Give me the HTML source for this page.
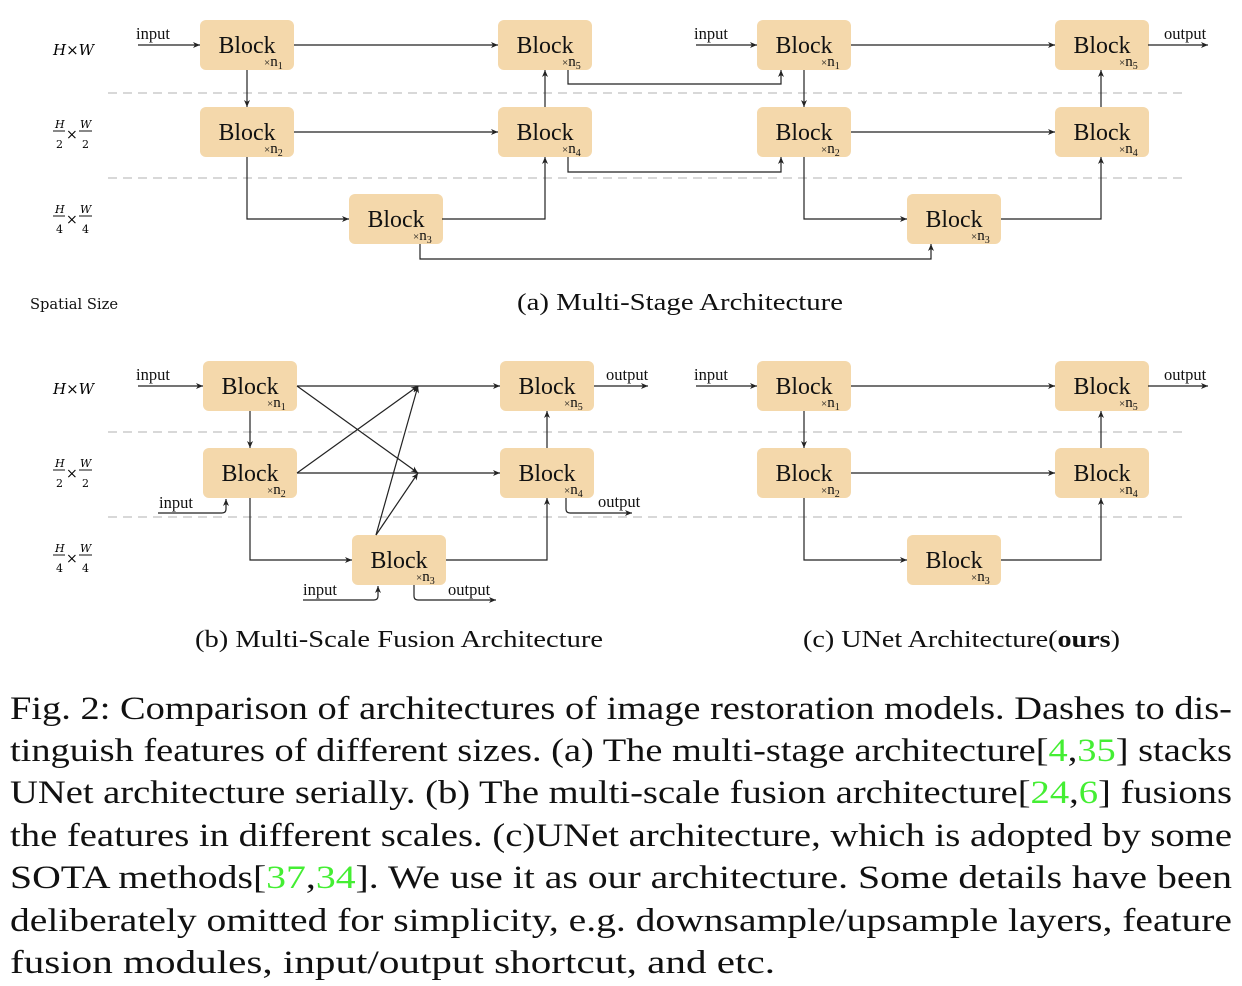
<!DOCTYPE html>
<html><head><meta charset="utf-8"><style>
html,body{margin:0;padding:0;background:#fff;width:1242px;height:986px;overflow:hidden}
svg{display:block;font-family:"Liberation Serif",serif}
.ln{stroke:#222;stroke-width:1.2;fill:none}
.ar{stroke:#222;stroke-width:1.2;fill:none;marker-end:url(#ah)}
.dash{stroke:#ccc;stroke-width:1.5;stroke-dasharray:9 6}
.lbl{font-size:16.5px;fill:#111}
.cap{font-size:24px;fill:#111}
.fig{font-size:33px;fill:#111}
.g{fill:#44ee33}
</style></head><body>
<svg id="s" width="1242" height="986" viewBox="0 0 1242 986">
<defs><marker id="ah" markerWidth="8" markerHeight="8" refX="7" refY="4" orient="auto" markerUnits="userSpaceOnUse"><path d="M0,1 L7,4 L0,7 L2,4z" fill="#222"/></marker></defs>

<g>
<line class="dash" x1="108" y1="93" x2="1186" y2="93"/>
<line class="dash" x1="108" y1="178" x2="1186" y2="178"/>
<line class="dash" x1="108" y1="432" x2="1186" y2="432"/>
<line class="dash" x1="108" y1="517" x2="1186" y2="517"/>
</g>

<g font-family="'DejaVu Serif',serif" font-style="italic" font-size="15">
<text x="53" y="55">H×W</text>
<text x="53" y="394">H×W</text>
<g font-size="11"><text x="55" y="128">H</text><line x1="53" y1="131" x2="65" y2="131" stroke="#111"/><text x="56" y="148" font-style="normal">2</text><text x="66" y="139" font-style="normal" font-size="14">×</text><text x="80" y="128">W</text><line x1="79" y1="131" x2="92" y2="131" stroke="#111"/><text x="82" y="148" font-style="normal">2</text></g>
<g font-size="11"><text x="55" y="213">H</text><line x1="53" y1="216" x2="65" y2="216" stroke="#111"/><text x="56" y="233" font-style="normal">4</text><text x="66" y="224" font-style="normal" font-size="14">×</text><text x="80" y="213">W</text><line x1="79" y1="216" x2="92" y2="216" stroke="#111"/><text x="82" y="233" font-style="normal">4</text></g>
<g font-size="11"><text x="55" y="467">H</text><line x1="53" y1="470" x2="65" y2="470" stroke="#111"/><text x="56" y="487" font-style="normal">2</text><text x="66" y="478" font-style="normal" font-size="14">×</text><text x="80" y="467">W</text><line x1="79" y1="470" x2="92" y2="470" stroke="#111"/><text x="82" y="487" font-style="normal">2</text></g>
<g font-size="11"><text x="55" y="552">H</text><line x1="53" y1="555" x2="65" y2="555" stroke="#111"/><text x="56" y="572" font-style="normal">4</text><text x="66" y="563" font-style="normal" font-size="14">×</text><text x="80" y="552">W</text><line x1="79" y1="555" x2="92" y2="555" stroke="#111"/><text x="82" y="572" font-style="normal">4</text></g>
</g>

<g id="blocks"></g>

<g>
<path class="ar" d="M138,45 H200"/><text class="lbl" x="136" y="39">input</text>
<path class="ar" d="M294,45 H498"/>
<path class="ar" d="M247,70 V107"/>
<path class="ar" d="M294,132 H498"/>
<path class="ar" d="M247,157 V219 H349"/>
<path class="ar" d="M442,219 H545 V157"/>
<path class="ar" d="M545,107 V70"/>
<path class="ar" d="M568,70 V84 H781 V70"/>
<path class="ar" d="M568,157 V172 H781 V157"/>
<path class="ar" d="M420,244 V259 H931 V244"/>
<path class="ar" d="M696,45 H757"/><text class="lbl" x="694" y="39">input</text>
<path class="ar" d="M851,45 H1055"/>
<path class="ar" d="M804,70 V107"/>
<path class="ar" d="M851,132 H1055"/>
<path class="ar" d="M804,157 V219 H907"/>
<path class="ar" d="M1001,219 H1101 V157"/>
<path class="ar" d="M1101,107 V70"/>
<path class="ar" d="M1148,45 H1208"/><text class="lbl" x="1164" y="39">output</text>
</g>

<g>
<path class="ar" d="M138,386 H203"/><text class="lbl" x="136" y="380">input</text>
<path class="ln" d="M297,386 H418"/><path class="ar" d="M418,386 H500"/>
<path class="ar" d="M297,386 L418,473"/>
<path class="ar" d="M297,473 L418,386"/>
<path class="ar" d="M376,535 L418,386"/>
<path class="ar" d="M376,535 L418,473"/>
<path class="ln" d="M297,473 H418"/><path class="ar" d="M418,473 H500"/>
<path class="ar" d="M250,411 V448"/>
<path class="ar" d="M250,498 V560 H352"/>
<path class="ar" d="M446,560 H547 V498"/>
<path class="ar" d="M547,448 V411"/>
<path class="ar" d="M594,386 H648"/><text class="lbl" x="606" y="380">output</text>
<path class="ar" d="M158,513 H222 Q226,513 226,509 V499"/><text class="lbl" x="159" y="508">input</text>
<path class="ar" d="M566,498 V509 Q566,513 570,513 H632"/><text class="lbl" x="598" y="507">output</text>
<path class="ar" d="M303,600 H374 Q378,600 378,596 V586"/><text class="lbl" x="303" y="595">input</text>
<path class="ar" d="M414,585 V596 Q414,600 418,600 H496"/><text class="lbl" x="448" y="595">output</text>
</g>

<g>
<path class="ar" d="M696,386 H757"/><text class="lbl" x="694" y="380">input</text>
<path class="ar" d="M851,386 H1055"/>
<path class="ar" d="M804,411 V448"/>
<path class="ar" d="M851,473 H1055"/>
<path class="ar" d="M804,498 V560 H907"/>
<path class="ar" d="M1001,560 H1101 V498"/>
<path class="ar" d="M1101,448 V411"/>
<path class="ar" d="M1148,386 H1208"/><text class="lbl" x="1164" y="380">output</text>
</g>

<text x="30" y="309" font-size="14.5" font-family="'DejaVu Serif',serif" fill="#111" textLength="88" lengthAdjust="spacingAndGlyphs">Spatial Size</text>
<text class="cap" x="517" y="310" textLength="326" lengthAdjust="spacingAndGlyphs">(a) Multi-Stage Architecture</text>
<text class="cap" x="195" y="647" textLength="408" lengthAdjust="spacingAndGlyphs">(b) Multi-Scale Fusion Architecture</text>
<text class="cap" x="803" y="647" textLength="317" lengthAdjust="spacingAndGlyphs">(c) UNet Architecture(<tspan font-weight="bold">ours</tspan>)</text>

<g class="fig">
<text x="10" y="719" textLength="1222" lengthAdjust="spacingAndGlyphs">Fig. 2: Comparison of architectures of image restoration models. Dashes to dis-</text>
<text x="10" y="761" textLength="1222" lengthAdjust="spacingAndGlyphs">tinguish features of different sizes. (a) The multi-stage architecture[<tspan class="g">4</tspan>,<tspan class="g">35</tspan>] stacks</text>
<text x="10" y="803" textLength="1222" lengthAdjust="spacingAndGlyphs">UNet architecture serially. (b) The multi-scale fusion architecture[<tspan class="g">24</tspan>,<tspan class="g">6</tspan>] fusions</text>
<text x="10" y="846" textLength="1222" lengthAdjust="spacingAndGlyphs">the features in different scales. (c)UNet architecture, which is adopted by some</text>
<text x="10" y="888" textLength="1222" lengthAdjust="spacingAndGlyphs">SOTA methods[<tspan class="g">37</tspan>,<tspan class="g">34</tspan>]. We use it as our architecture. Some details have been</text>
<text x="10" y="931" textLength="1222" lengthAdjust="spacingAndGlyphs">deliberately omitted for simplicity, e.g. downsample/upsample layers, feature</text>
<text x="10" y="973" textLength="765" lengthAdjust="spacingAndGlyphs">fusion modules, input/output shortcut, and etc.</text>
</g>
</svg>
<script>
const NS='http://www.w3.org/2000/svg';
const blockX=[200,498,757,1055,200,498,757,1055,349,907,203,500,203,500,352,757,1055,757,1055,907];
const blockY=[20,20,20,20,107,107,107,107,194,194,361,361,448,448,535,361,361,448,448,535];
const blockN=['1','5','1','5','2','4','2','4','3','3','1','5','2','4','3','1','5','2','4','3'];
const g=document.getElementById('blocks');
blockX.forEach((x,i)=>{
  const y=blockY[i];
  const b=document.createElementNS(NS,'g');
  
  
  b.innerHTML=`<rect x="${x}" y="${y}" width="94" height="50" rx="6" fill="#f4d8ab"/>
<text x="${x+47}" y="${y+33}" font-size="24" text-anchor="middle" fill="#111" textLength="57" lengthAdjust="spacingAndGlyphs">Block</text>
<text x="${x+64}" y="${y+46}" font-size="15" fill="#111"><tspan font-size="11">×</tspan>n<tspan font-size="10" dy="3">${blockN[i]}</tspan></text>`;
  g.appendChild(b);
});
</script>
</body></html>
